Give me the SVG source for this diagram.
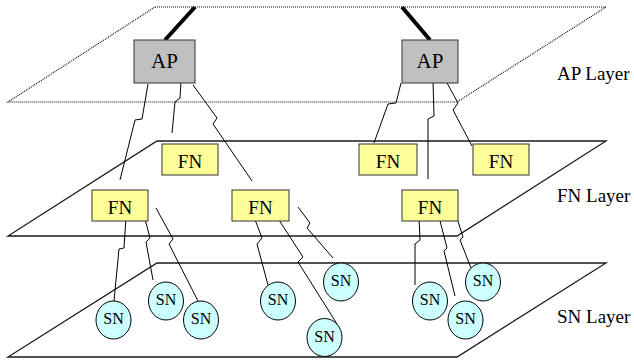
<svg xmlns="http://www.w3.org/2000/svg" width="634" height="360" viewBox="0 0 634 360">
  <style>
    .layer { fill: none; stroke: #1a1a1a; stroke-width: 1.3; }
    .layer-dot { fill: none; stroke: #000; stroke-width: 1.1; stroke-dasharray: 1 1; }
    .uplink { stroke: #000; stroke-width: 4; }
    .link { fill: none; stroke: #000; stroke-width: 1; }
    .ap { fill: #c0c0c0; stroke: #333; stroke-width: 1; }
    .fn { fill: #ffff99; stroke: #333; stroke-width: 1; }
    .sn { fill: #ccffff; stroke: #000; stroke-width: 1; }
    text { font-family: "Liberation Serif", "Times New Roman", serif; fill: #000; }
    .lbl-ap { font-size: 21px; text-anchor: middle; }
    .lbl-fn { font-size: 19px; text-anchor: middle; }
    .lbl-sn { font-size: 16px; text-anchor: middle; }
    .lbl-layer { font-size: 19px; }
  </style>

  <!-- layer planes -->
  <g id="layers">
    <polygon class="layer-dot" points="155,7 606,7 457,102 8,102"/>
    <polygon class="layer" points="157,141 606,141 457,236 8,236"/>
    <polygon class="layer" points="157,263 606,263 457,357 8,357"/>
    <text class="lbl-layer" x="557" y="80">AP Layer</text>
    <text class="lbl-layer" x="557" y="202">FN Layer</text>
    <text class="lbl-layer" x="557" y="323">SN Layer</text>
  </g>

  <!-- wired uplinks and wireless links -->
  <g id="connectors">
    <line class="uplink" x1="195" y1="7" x2="165" y2="40"/>
    <line class="uplink" x1="402" y1="7" x2="430" y2="40"/>

    <polyline class="link" points="148,84 142,119 135,120 120,180"/>
    <polyline class="link" points="181,81 180,98 175,102 172,133"/>
    <polyline class="link" points="193,85 217,118 213,124 252,181"/>

    <polyline class="link" points="401,83 396,103 388,104 374,143"/>
    <polyline class="link" points="433,81 434,116 428,119 428,179"/>
    <polyline class="link" points="447,83 458,103 453,110 472,146"/>

    <polyline class="link" points="126,217 124,248 119,249 114,301"/>
    <polyline class="link" points="145,219 150,238 146,242 153,280"/>
    <polyline class="link" points="156,208 173,239 169,244 198,301"/>

    <polyline class="link" points="254,217 262,238 257,244 268,285"/>
    <polyline class="link" points="277,217 303,257 298,262 337,324"/>
    <polyline class="link" points="298,207 310,223 307,228 333,258"/>

    <polyline class="link" points="419,217 420,240 415,244 415,285"/>
    <polyline class="link" points="439,217 447,248 444,251 455,296"/>
    <polyline class="link" points="457,218 463,237 460,240 471,268"/>
  </g>

  <!-- access points -->
  <g id="ap1"><rect class="ap" x="134" y="40" width="61" height="43"/><text class="lbl-ap" x="164.5" y="68">AP</text></g>
  <g id="ap2"><rect class="ap" x="402" y="40" width="56" height="43"/><text class="lbl-ap" x="430" y="68">AP</text></g>

  <!-- forwarding nodes -->
  <g id="fn1"><rect class="fn" x="162" y="144" width="56" height="31"/><text class="lbl-fn" x="190" y="168">FN</text></g>
  <g id="fn2"><rect class="fn" x="92" y="190" width="56" height="31"/><text class="lbl-fn" x="120" y="214">FN</text></g>
  <g id="fn3"><rect class="fn" x="232" y="190" width="57" height="31"/><text class="lbl-fn" x="260.5" y="214">FN</text></g>
  <g id="fn4"><rect class="fn" x="359" y="144" width="58" height="31"/><text class="lbl-fn" x="388" y="168">FN</text></g>
  <g id="fn5"><rect class="fn" x="473" y="144" width="56" height="31"/><text class="lbl-fn" x="501" y="168">FN</text></g>
  <g id="fn6"><rect class="fn" x="402" y="190" width="56" height="31"/><text class="lbl-fn" x="430" y="214">FN</text></g>

  <!-- sensor nodes -->
  <g id="sn1"><ellipse class="sn" cx="113.5" cy="320" rx="17.5" ry="19"/><text class="lbl-sn" x="113.5" y="324">SN</text></g>
  <g id="sn2"><ellipse class="sn" cx="166" cy="301" rx="17.5" ry="19"/><text class="lbl-sn" x="166" y="305">SN</text></g>
  <g id="sn3"><ellipse class="sn" cx="201" cy="320" rx="17.5" ry="19"/><text class="lbl-sn" x="201" y="324">SN</text></g>
  <g id="sn4"><ellipse class="sn" cx="278" cy="301" rx="17.5" ry="19"/><text class="lbl-sn" x="278" y="305">SN</text></g>
  <g id="sn5"><ellipse class="sn" cx="324.5" cy="337.5" rx="17.5" ry="19"/><text class="lbl-sn" x="324.5" y="341.5">SN</text></g>
  <g id="sn6"><ellipse class="sn" cx="341" cy="282" rx="17.5" ry="19"/><text class="lbl-sn" x="341" y="286">SN</text></g>
  <g id="sn7"><ellipse class="sn" cx="430" cy="301" rx="17.5" ry="19"/><text class="lbl-sn" x="430" y="305">SN</text></g>
  <g id="sn8"><ellipse class="sn" cx="465.5" cy="320" rx="17.5" ry="19"/><text class="lbl-sn" x="465.5" y="324">SN</text></g>
  <g id="sn9"><ellipse class="sn" cx="483" cy="282" rx="17.5" ry="19"/><text class="lbl-sn" x="483" y="286">SN</text></g>
</svg>
